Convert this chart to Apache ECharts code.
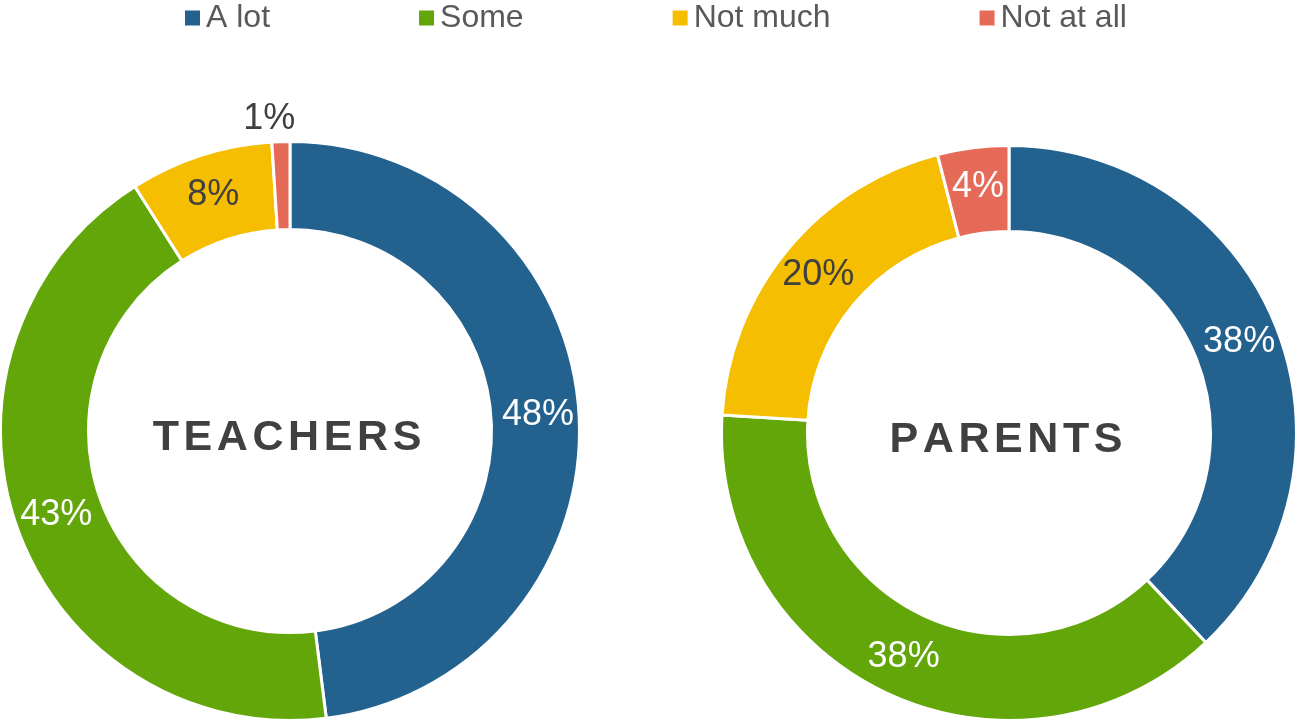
<!DOCTYPE html>
<html>
<head>
<meta charset="utf-8">
<script src="https://cdn.jsdelivr.net/npm/echarts@6/dist/echarts.min.js"></script>
<style>
html,body{margin:0;padding:0;background:#fff;}
#chart{width:1296px;height:721px;}
</style>
</head>
<body>
<div id="chart"></div>
<script>
const categories = ['A lot', 'Some', 'Not much', 'Not at all'];
const teachersValues = [48, 43, 8, 1];
const parentsValues = [38, 38, 20, 4];
const groupNames = ['TEACHERS', 'PARENTS'];

const sliceColors = ['#23628F', '#63A60A', '#F5BE00', '#E66A58'];
const teachersLabelColors = ['#ffffff', '#ffffff', '#404040', '#404040'];
const parentsLabelColors = ['#ffffff', '#ffffff', '#404040', '#ffffff'];

const teachersCenter = [290, 431];
const parentsCenter = [1009, 433];

const chart = echarts.init(document.getElementById('chart'), null, { renderer: 'canvas' });

function buildData(values, labelColors, special) {
  return values.map(function (v, i) {
    const item = {
      name: categories[i],
      value: v,
      itemStyle: { color: sliceColors[i] },
      label: { color: labelColors[i] }
    };
    if (special && special[i]) {
      item.label = Object.assign(item.label, special[i]);
    }
    return item;
  });
}

function spaced(word) {
  return word.split('').map(function (ch) { return '{a|' + ch + '}'; }).join('');
}

function centerText(word, c) {
  return {
    type: 'text',
    x: c[0] - 3,
    y: c[1] + 7,
    silent: true,
    style: {
      text: spaced(word),
      align: 'center',
      verticalAlign: 'middle',
      fill: '#404040',
      rich: {
        a: {
          fontFamily: 'Liberation Sans, Arial, sans-serif',
          fontWeight: 'bold',
          fontSize: 43,
          fill: '#404040',
          padding: [0, 2.3, 0, 2.3]
        }
      }
    }
  };
}

const baseSeries = {
  type: 'pie',
  startAngle: 90,
  clockwise: true,
  avoidLabelOverlap: false,
  silent: true,
  emphasis: { disabled: true },
  itemStyle: { borderColor: '#ffffff', borderWidth: 3 },
  label: {
    show: true,
    position: 'inside',
    formatter: '{c}%',
    fontFamily: 'Liberation Sans, Arial, sans-serif',
    fontSize: 36,
    fontWeight: 'normal'
  },
  labelLine: { show: false }
};

const option = {
  animation: false,
  backgroundColor: '#ffffff',
  color: sliceColors,
  legend: {
    data: categories,
    left: 183,
    top: 2,
    padding: 0,
    itemWidth: 17,
    itemHeight: 17,
    itemGap: 147,
    icon: 'rect',
    selectedMode: false,
    textStyle: {
      fontFamily: 'Liberation Sans, Arial, sans-serif',
      fontSize: 32,
      color: '#595959'
    }
  },
  graphic: [
    centerText(groupNames[0], teachersCenter),
    centerText(groupNames[1], parentsCenter)
  ],
  series: [
    Object.assign({}, baseSeries, {
      name: groupNames[0],
      center: teachersCenter,
      radius: [201.5, 289.5],
      data: buildData(teachersValues, teachersLabelColors, { 3: { offset: [-13, -64] } })
    }),
    Object.assign({}, baseSeries, {
      name: groupNames[1],
      center: parentsCenter,
      radius: [201.5, 287.5],
      data: buildData(parentsValues, parentsLabelColors, null)
    })
  ]
};

chart.setOption(option);
</script>
</body>
</html>
